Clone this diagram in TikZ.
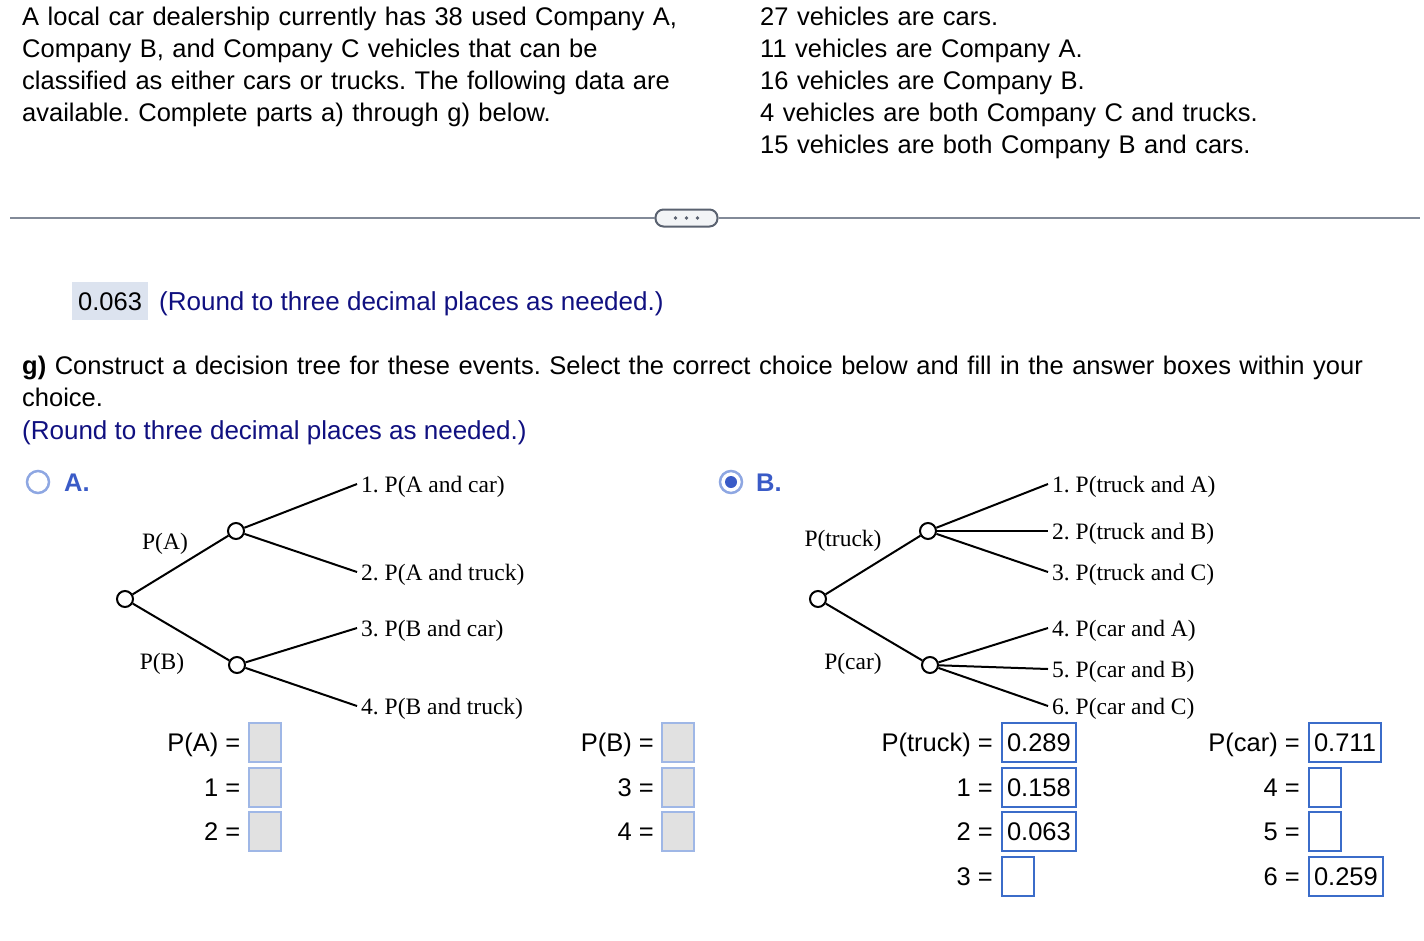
\documentclass[tikz,border=0pt]{standalone}
\usepackage{fontspec}
\setmainfont{Liberation Sans}
\newfontfamily\treefont{Liberation Serif}
\usetikzlibrary{positioning}
\frenchspacing

\definecolor{navytext}{RGB}{16,16,128}
\definecolor{choiceblue}{HTML}{3A5BC7}
\definecolor{radioblue}{HTML}{8EA7E2}
\definecolor{emptyborder}{HTML}{9FB7E6}
\definecolor{emptyfill}{HTML}{E1E1E1}
\definecolor{ansborder}{HTML}{3B6CC9}
\definecolor{ansfill}{HTML}{DCE3EF}
\definecolor{rulegray}{HTML}{828A98}
\definecolor{pillgray}{HTML}{5A6270}
\definecolor{pillfill}{HTML}{F2F4F6}

\tikzset{
  bodytext/.style={anchor=base west, inner sep=0pt, align=left,
    font=\fontsize{25.5}{32}\selectfont},
  hinttext/.style={anchor=base west, inner sep=0pt, text=navytext,
    font=\fontsize{26}{32}\selectfont}
}
\tikzset{
  treetext/.style={anchor=west, inner ysep=0pt, inner xsep=4pt,
    text height=16pt, text depth=0pt,
    font=\treefont\fontsize{23.5}{28}\selectfont},
  treedot/.style={circle, draw, line width=2pt, fill=white,
    minimum size=16pt, inner sep=0pt},
  treeline/.style={line width=2pt}
}
\tikzset{
  emptybox/.style={draw=emptyborder, fill=emptyfill, line width=2pt,
    minimum width=32pt, minimum height=39pt, inner sep=0pt},
  valbox/.style={draw=ansborder, line width=2pt, minimum width=32pt,
    minimum height=39pt, inner xsep=5pt, inner ysep=0pt,
    text height=18pt, text depth=0pt,
    font=\fontsize{25.5}{32}\selectfont},
  eqtext/.style={inner sep=0pt, text height=18pt, text depth=0pt,
    font=\fontsize{25.5}{32}\selectfont}
}

\begin{document}
\begin{tikzpicture}[x=1pt, y=-1pt]
  \useasboundingbox (0,0) rectangle (1424,940);

  % problem statement
  \node[bodytext, text width=700pt] (intro) at (22,25)
    {A local car dealership currently has 38 used Company A,\\
     Company B, and Company C vehicles that can be\\
     classified as either cars or trucks. The following data are\\
     available. Complete parts a) through g) below.};
  \node[bodytext, text width=640pt] (facts) at (760,25)
    {27 vehicles are cars.\\
     11 vehicles are Company A.\\
     16 vehicles are Company B.\\
     4 vehicles are both Company C and trucks.\\
     15 vehicles are both Company B and cars.};

  % separator with the collapsed parts
  \node[draw=pillgray, fill=pillfill, line width=2pt, rounded corners=8pt,
        minimum width=62pt, minimum height=17pt, inner sep=0pt] (more) at (686.5,218) {};
  \coordinate (ruleL) at (10,218);
  \coordinate (ruleR) at (1420,218);
  \draw[rulegray, line width=1.5pt] (ruleL) -- (more.west);
  \draw[rulegray, line width=1.5pt] (more.east) -- (ruleR);
  \fill[pillgray, shift={(more.center)}] (-11,0) circle (1.8pt) (0,0) circle (1.8pt) (11,0) circle (1.8pt);

  % answer to part f
  \node[fill=ansfill, inner xsep=6pt, minimum height=38pt, anchor=west,
        text height=18pt, text depth=0pt,
        font=\fontsize{25.5}{32}\selectfont] (fans) at (72,301) {0.063};
  \node[hinttext] (fround) at (159,310) {(Round to three decimal places as needed.)};

  % part g
  \node[bodytext, text width=1380pt] (gtext) at (22,374)
    {\textbf{g)} Construct a decision tree for these events. Select the correct choice below and fill in the answer boxes within your\\
     choice.};
  \node[hinttext] (ground) at (22,439) {(Round to three decimal places as needed.)};

  % choice A
  \node[circle, draw=radioblue, line width=2.5pt, minimum size=22pt, inner sep=0pt] (radA) at (38,482) {};
  \node[bodytext, text=choiceblue, font=\bfseries\fontsize{25.5}{32}\selectfont] (labA) at (64,491) {A.};

  \node[treedot] (a0) at (125,599) {};
  \node[treedot] (a1) at (236,531) {};
  \node[treedot] (a2) at (237,665) {};
  \node[treetext] (a11) at (357,484) {1. P(A and car)};
  \node[treetext] (a12) at (357,572) {2. P(A and truck)};
  \node[treetext] (a21) at (357,628) {3. P(B and car)};
  \node[treetext] (a22) at (357,706) {4. P(B and truck)};
  \node[treetext, anchor=center] (pa) at (165,541) {P(A)};
  \node[treetext, anchor=center] (pb) at (162,661) {P(B)};
  \draw[treeline] (a0) -- (a1);
  \draw[treeline] (a0) -- (a2);
  \draw[treeline] (a1) -- (a11.west);
  \draw[treeline] (a1) -- (a12.west);
  \draw[treeline] (a2) -- (a21.west);
  \draw[treeline] (a2) -- (a22.west);

  % choice B (selected)
  \node[circle, draw=radioblue, line width=2.5pt, minimum size=22pt, inner sep=0pt] (radB) at (731,482) {};
  \fill[choiceblue] (radB.center) circle (6pt);
  \node[bodytext, text=choiceblue, font=\bfseries\fontsize{25.5}{32}\selectfont] (labB) at (756,491) {B.};

  \node[treedot] (b0) at (818,599) {};
  \node[treedot] (b1) at (928,531) {};
  \node[treedot] (b2) at (930,665) {};
  \node[treetext] (b11) at (1048,484) {1. P(truck and A)};
  \node[treetext] (b12) at (1048,531) {2. P(truck and B)};
  \node[treetext] (b13) at (1048,572) {3. P(truck and C)};
  \node[treetext] (b21) at (1048,628) {4. P(car and A)};
  \node[treetext] (b22) at (1048,669) {5. P(car and B)};
  \node[treetext] (b23) at (1048,706) {6. P(car and C)};
  \node[treetext, anchor=center] (ptruck) at (843,538) {P(truck)};
  \node[treetext, anchor=center] (pcar) at (853,661) {P(car)};
  \draw[treeline] (b0) -- (b1);
  \draw[treeline] (b0) -- (b2);
  \draw[treeline] (b1) -- (b11.west);
  \draw[treeline] (b1) -- (b12.west);
  \draw[treeline] (b1) -- (b13.west);
  \draw[treeline] (b2) -- (b21.west);
  \draw[treeline] (b2) -- (b22.west);
  \draw[treeline] (b2) -- (b23.west);

  % answer boxes, choice A
  \node[emptybox] (xa) at (264.5,742) {};
  \node[emptybox] (xa1) at (264.5,787) {};
  \node[emptybox] (xa2) at (264.5,831) {};
  \node[eqtext, left=7pt of xa] {P(A) =};
  \node[eqtext, left=7pt of xa1] {1 =};
  \node[eqtext, left=7pt of xa2] {2 =};
  \node[emptybox] (xb) at (678,742) {};
  \node[emptybox] (xb3) at (678,787) {};
  \node[emptybox] (xb4) at (678,831) {};
  \node[eqtext, left=7pt of xb] {P(B) =};
  \node[eqtext, left=7pt of xb3] {3 =};
  \node[eqtext, left=7pt of xb4] {4 =};

  % answer boxes, choice B
  \node[valbox, anchor=west] (vt) at (1001,742) {0.289};
  \node[valbox, anchor=west] (vt1) at (1001,787) {0.158};
  \node[valbox, anchor=west] (vt2) at (1001,831) {0.063};
  \node[valbox, anchor=west] (vt3) at (1001,876) {};
  \node[eqtext, left=8pt of vt] {P(truck) =};
  \node[eqtext, left=8pt of vt1] {1 =};
  \node[eqtext, left=8pt of vt2] {2 =};
  \node[eqtext, left=8pt of vt3] {3 =};
  \node[valbox, anchor=west] (vc) at (1308,742) {0.711};
  \node[valbox, anchor=west] (vc4) at (1308,787) {};
  \node[valbox, anchor=west] (vc5) at (1308,831) {};
  \node[valbox, anchor=west] (vc6) at (1308,876) {0.259};
  \node[eqtext, left=8pt of vc] {P(car) =};
  \node[eqtext, left=8pt of vc4] {4 =};
  \node[eqtext, left=8pt of vc5] {5 =};
  \node[eqtext, left=8pt of vc6] {6 =};
\end{tikzpicture}
\end{document}
